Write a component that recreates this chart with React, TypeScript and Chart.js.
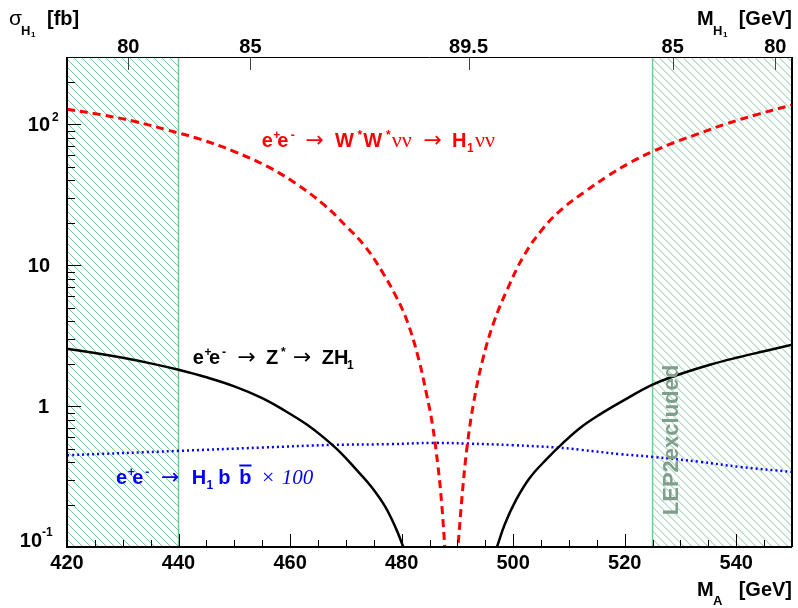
import React, { useEffect, useRef } from 'react';
import { Chart, registerables } from 'chart.js';

Chart.register(...registerables);

const SANS = "'Liberation Sans', Arial, Helvetica, sans-serif";
const SERIF = "'Liberation Serif', 'Times New Roman', serif";

// Axes
const xMin = 420;
const xMax = 550;
const yMin = 0.1;
const yMax = 300;
const xTickValues = [420, 440, 460, 480, 500, 520, 540];
const topTickMA = [431.0, 452.9, 492.0, 528.6, 547.0];
const topTickLabels = ['80', '85', '89.5', '85', '80'];
const yLabelValues = [0.1, 1, 10, 100];

// LEP2 excluded ranges (M_A, GeV)
const excludedLow = [420, 440];
const excludedHigh = [525, 550];

// e+e- -> W*W* nu nu -> H1 nu nu
const wwLeftMass = [420, 426, 432, 438, 444, 450, 456, 461, 466, 470, 473.5, 476.5, 479, 481, 483, 484.5, 485.5, 486.5, 487.2, 487.9];
const wwLeftXsec = [128, 117, 105, 91, 78, 64, 50, 38, 27, 19, 13.5, 9, 6, 4.0, 2.2, 1.2, 0.75, 0.38, 0.2, 0.08];
const wwRightMass = [489.7, 490.1, 490.8, 491.7, 492.9, 494.5, 496.5, 499, 502, 505.5, 509, 513, 517, 521, 525, 529, 533, 538, 544, 550];
const wwRightXsec = [0.07, 0.1, 0.22, 0.5, 1.05, 2.1, 3.9, 6.8, 11.8, 18.5, 25.5, 33.5, 43, 53.5, 64, 74.5, 85, 100, 118, 137];

// e+e- -> Z* -> Z H1
const zhLeftMass = [420, 425, 430, 435, 440, 445, 450, 455, 459, 463, 466, 469, 472, 474.5, 477, 479, 480.3, 481];
const zhLeftXsec = [2.55, 2.38, 2.2, 2.01, 1.81, 1.6, 1.38, 1.14, 0.93, 0.74, 0.6, 0.47, 0.35, 0.27, 0.195, 0.135, 0.1, 0.085];
const zhRightMass = [496.5, 497.1, 498.5, 500.5, 503, 506, 509, 512, 515.5, 519.5, 525, 530, 535, 540, 545, 550];
const zhRightXsec = [0.085, 0.1, 0.145, 0.215, 0.31, 0.42, 0.55, 0.7, 0.87, 1.08, 1.42, 1.69, 1.95, 2.2, 2.45, 2.72];

// e+e- -> H1 b bbar (x100)
const bbMass = [420, 440, 455, 467.7, 478, 485.7, 491.7, 500, 507.8, 512, 519.2, 525.1, 533.5, 540.7, 550];
const bbXsec = [0.448, 0.481, 0.508, 0.53, 0.537, 0.548, 0.542, 0.528, 0.508, 0.49, 0.456, 0.436, 0.402, 0.37, 0.341];

const pts = (m: number[], v: number[]) => m.map((x, i) => ({ x, y: v[i] }));

type Seg = { t: string; x: number; font: string; dy?: number; overline?: boolean };

function drawSegs(ctx: CanvasRenderingContext2D, segs: Seg[], baseline: number, color: string) {
  ctx.fillStyle = color;
  ctx.strokeStyle = color;
  ctx.textAlign = 'left';
  ctx.textBaseline = 'alphabetic';
  for (const s of segs) {
    ctx.font = s.font;
    ctx.fillText(s.t, s.x, baseline + (s.dy || 0));
    if (s.overline) {
      const w = ctx.measureText(s.t).width;
      ctx.lineWidth = 2;
      ctx.beginPath();
      ctx.moveTo(s.x, baseline - 18);
      ctx.lineTo(s.x + w, baseline - 18);
      ctx.stroke();
    }
  }
}

const B20 = `bold 20px ${SANS}`;
const B13 = `bold 13px ${SANS}`;
const B12 = `bold 12px ${SANS}`;
const B8 = `bold 8px ${SANS}`;
const ARW = `22px 'DejaVu Sans', ${SANS}`;
const NU = `22px ${SERIF}`;

const decorPlugin = {
  id: 'decor',
  beforeDatasetsDraw(chart: any) {
    const { ctx, chartArea } = chart;
    const xs = chart.scales.x;
    const { top, bottom } = chartArea;
    const h = bottom - top;
    ctx.save();
    for (const r of [excludedLow, excludedHigh]) {
      const x1 = xs.getPixelForValue(r[0]);
      const x2 = xs.getPixelForValue(r[1]);
      ctx.save();
      ctx.beginPath();
      ctx.rect(x1, top, x2 - x1, h);
      ctx.clip();
      ctx.strokeStyle = 'rgba(80,180,130,0.75)';
      ctx.lineWidth = 1;
      ctx.beginPath();
      for (let c = x1 - h - 8; c < x2 + 8; c += 8) {
        ctx.moveTo(c, top);
        ctx.lineTo(c + h, bottom);
      }
      ctx.stroke();
      ctx.restore();
      ctx.strokeStyle = 'rgba(110,195,150,0.95)';
      ctx.lineWidth = 1.5;
      ctx.beginPath();
      ctx.moveTo(x1, top);
      ctx.lineTo(x1, bottom);
      ctx.moveTo(x2, top);
      ctx.lineTo(x2, bottom);
      ctx.stroke();
    }
    ctx.restore();
  },
  afterDatasetsDraw(chart: any) {
    const { ctx, chartArea } = chart;
    const xs = chart.scales.x;
    const ys = chart.scales.y;
    const { left, right, top, bottom } = chartArea;
    ctx.save();

    // bottom x ticks
    ctx.strokeStyle = '#000';
    ctx.lineWidth = 1;
    ctx.beginPath();
    for (let v = xMin; v <= xMax; v += 5) {
      const px = Math.round(xs.getPixelForValue(v)) + 0.5;
      const len = (v - xMin) % 20 === 0 ? 13 : 7;
      ctx.moveTo(px, bottom);
      ctx.lineTo(px, bottom - len);
    }
    ctx.stroke();

    // top ticks
    ctx.strokeStyle = '#444';
    ctx.beginPath();
    for (const v of topTickMA) {
      const px = Math.round(xs.getPixelForValue(v)) + 0.5;
      ctx.moveTo(px, top);
      ctx.lineTo(px, top + 13);
    }
    ctx.stroke();

    // y ticks (log)
    ctx.strokeStyle = '#000';
    ctx.beginPath();
    for (let d = -1; d <= 2; d++) {
      for (let m = 1; m <= 9; m++) {
        const v = m * Math.pow(10, d);
        if (v > yMax) break;
        const py = Math.round(ys.getPixelForValue(v)) + 0.5;
        const len = m === 1 ? 14 : 8;
        ctx.moveTo(left, py);
        ctx.lineTo(left + len, py);
      }
    }
    ctx.stroke();

    // frame
    ctx.strokeStyle = '#000';
    ctx.lineWidth = 1;
    ctx.beginPath();
    ctx.moveTo(left, top + 0.5);
    ctx.lineTo(right, top + 0.5);
    ctx.stroke();
    ctx.lineWidth = 2;
    ctx.beginPath();
    ctx.moveTo(left, top);
    ctx.lineTo(left, bottom);
    ctx.lineTo(right, bottom);
    ctx.moveTo(right, bottom);
    ctx.lineTo(right, top);
    ctx.stroke();

    // y labels
    ctx.fillStyle = '#000';
    ctx.textBaseline = 'middle';
    for (const v of yLabelValues) {
      const py = ys.getPixelForValue(v);
      const e = Math.round(Math.log10(v));
      ctx.font = B20;
      ctx.textAlign = 'right';
      if (e === 0) {
        ctx.fillText('1', 49, py + 1);
      } else if (e === 1) {
        ctx.fillText('10', 50, py + 1);
      } else {
        const rx = e < 0 ? 42 : 50;
        const cy = e < 0 ? py - 6 : py + 1;
        ctx.fillText('10', rx, cy);
        ctx.font = B12;
        ctx.textAlign = 'left';
        ctx.fillText(String(e), rx + (e < 0 ? 0 : 2), cy - 8);
      }
    }

    // axis titles
    ctx.textBaseline = 'alphabetic';
    ctx.textAlign = 'left';
    ctx.fillStyle = '#000';
    ctx.font = `21px ${SANS}`;
    ctx.fillText('σ', 9, 25);
    ctx.font = B13;
    ctx.fillText('H', 21, 35);
    ctx.font = B8;
    ctx.fillText('1', 31, 37);
    ctx.font = B20;
    ctx.fillText('[fb]', 47, 25);

    ctx.font = B20;
    ctx.fillText('M', 697, 25);
    ctx.font = B13;
    ctx.fillText('H', 713, 35);
    ctx.font = B8;
    ctx.fillText('1', 723, 37);
    ctx.font = B20;
    ctx.textAlign = 'right';
    ctx.fillText('[GeV]', 792, 25);

    ctx.textAlign = 'left';
    ctx.fillText('M', 697, 596);
    ctx.font = B13;
    ctx.fillText('A', 713, 605);
    ctx.font = B20;
    ctx.textAlign = 'right';
    ctx.fillText('[GeV]', 792, 596);

    // process labels
    drawSegs(ctx, [
      { t: 'e', x: 261.7, font: B20 },
      { t: '+', x: 273.3, font: B12, dy: -8 },
      { t: 'e', x: 277.3, font: B20 },
      { t: '-', x: 290.7, font: B12, dy: -8 },
      { t: '→', x: 305.5, font: ARW },
      { t: 'W', x: 335, font: B20 },
      { t: '*', x: 357.5, font: B12, dy: -8 },
      { t: 'W', x: 363.3, font: B20 },
      { t: '*', x: 386, font: B12, dy: -8 },
      { t: 'νν', x: 391.7, font: NU },
      { t: '→', x: 423.5, font: ARW },
      { t: 'H', x: 452, font: B20 },
      { t: '1', x: 467, font: B12, dy: 5 },
      { t: 'νν', x: 475, font: NU },
    ], 147, '#ff0000');

    drawSegs(ctx, [
      { t: 'e', x: 192.7, font: B20 },
      { t: '+', x: 204.5, font: B12, dy: -8 },
      { t: 'e', x: 209, font: B20 },
      { t: '-', x: 222, font: B12, dy: -8 },
      { t: '→', x: 237.5, font: ARW },
      { t: 'Z', x: 266, font: B20 },
      { t: '*', x: 281, font: B12, dy: -8 },
      { t: '→', x: 293, font: ARW },
      { t: 'ZH', x: 321.7, font: B20 },
      { t: '1', x: 347, font: B12, dy: 5 },
    ], 363.5, '#000000');

    drawSegs(ctx, [
      { t: 'e', x: 116, font: B20 },
      { t: '+', x: 127.8, font: B12, dy: -8 },
      { t: 'e', x: 132.3, font: B20 },
      { t: '-', x: 145.3, font: B12, dy: -8 },
      { t: '→', x: 161, font: ARW },
      { t: 'H', x: 191.7, font: B20 },
      { t: '1', x: 206.5, font: B12, dy: 5 },
      { t: 'b', x: 218.3, font: B20 },
      { t: 'b', x: 239.3, font: B20, overline: true },
      { t: '×', x: 262, font: `22px ${SERIF}` },
      { t: '100', x: 281.7, font: `italic 21px ${SERIF}` },
    ], 483.5, '#0000ff');

    // LEP2 excluded
    ctx.translate(672, 440);
    ctx.rotate(-Math.PI / 2);
    ctx.textAlign = 'center';
    ctx.textBaseline = 'middle';
    ctx.font = `bold 22px ${SANS}`;
    ctx.fillStyle = '#809e8c';
    ctx.fillText('LEP2excluded', 0, 0);
    ctx.restore();
  },
};

export default function App() {
  const ref = useRef<HTMLCanvasElement>(null);
  useEffect(() => {
    if (!ref.current) return;
    const lineBase = { pointRadius: 0, tension: 0.4, clip: 0, fill: false };
    const chart = new Chart(ref.current, {
      type: 'line',
      data: {
        datasets: [
          { ...lineBase, label: 'WW left', data: pts(wwLeftMass, wwLeftXsec), borderColor: '#ff0000', borderWidth: 3, borderDash: [8, 5] },
          { ...lineBase, label: 'WW right', data: pts(wwRightMass, wwRightXsec), borderColor: '#ff0000', borderWidth: 3, borderDash: [8, 5] },
          { ...lineBase, label: 'ZH left', data: pts(zhLeftMass, zhLeftXsec), borderColor: '#000000', borderWidth: 2.5 },
          { ...lineBase, label: 'ZH right', data: pts(zhRightMass, zhRightXsec), borderColor: '#000000', borderWidth: 2.5 },
          { ...lineBase, label: 'Hbb', data: pts(bbMass, bbXsec), borderColor: '#0000ff', borderWidth: 2.5, borderDash: [2, 3] },
        ],
      },
      options: {
        responsive: false,
        animation: false,
        devicePixelRatio: 1,
        layout: { padding: { left: 0, right: 6, top: 0, bottom: 0 } },
        plugins: { legend: { display: false }, tooltip: { enabled: false } },
        scales: {
          x: {
            type: 'linear',
            position: 'bottom',
            min: xMin,
            max: xMax,
            grid: { display: false, drawTicks: false },
            border: { display: false },
            ticks: {
              color: '#000',
              font: { family: SANS, size: 20, weight: 'bold' },
              padding: 4,
              maxRotation: 0,
              autoSkip: false,
            },
            afterBuildTicks: (s: any) => {
              s.ticks = xTickValues.map((v) => ({ value: v }));
            },
            afterFit: (s: any) => {
              s.height = 61;
            },
          },
          x2: {
            type: 'linear',
            position: 'top',
            min: xMin,
            max: xMax,
            grid: { display: false, drawTicks: false },
            border: { display: false },
            ticks: {
              color: '#000',
              font: { family: SANS, size: 20, weight: 'bold' },
              padding: -2,
              maxRotation: 0,
              autoSkip: false,
              callback: (_v: any, i: number) => topTickLabels[i],
            },
            afterBuildTicks: (s: any) => {
              s.ticks = topTickMA.map((v) => ({ value: v }));
            },
            afterFit: (s: any) => {
              s.height = 57;
            },
          },
          y: {
            type: 'logarithmic',
            min: yMin,
            max: yMax,
            grid: { display: false, drawTicks: false },
            border: { display: false },
            ticks: { display: false },
            afterFit: (s: any) => {
              s.width = 67;
            },
          },
        },
      } as any,
      plugins: [decorPlugin],
    });
    return () => chart.destroy();
  }, []);
  return (
    <div style={{ position: 'absolute', left: 0, top: 0, width: 798, height: 608, background: '#fff' }}>
      <canvas ref={ref} width={798} height={608} style={{ display: 'block' }} />
    </div>
  );
}
